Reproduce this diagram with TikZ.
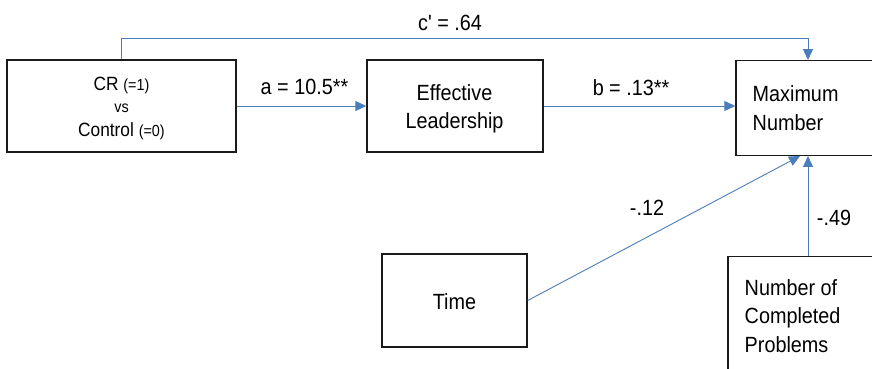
\documentclass[tikz,border=0pt]{standalone}
\usepackage{fontspec}
\setmainfont[FakeStretch=0.9]{Liberation Sans}
\newfontfamily\rawfont[FakeStretch=0.9,Ligatures=ResetAll]{Liberation Sans}
\usetikzlibrary{arrows.meta,calc}
\definecolor{lineblue}{HTML}{4A7EBB}
\definecolor{boxline}{HTML}{1A1A1A}
\newcommand{\smalltxt}{\fontsize{16bp}{19bp}\selectfont}
\newcommand{\crtxt}{\fontsize{19.2bp}{23bp}\selectfont}
\tikzset{
  box/.style={draw=boxline,line width=1.4bp,fill=white,inner sep=0pt},
  arr/.style={draw=lineblue,line width=0.9bp,-{Triangle[length=11bp,width=10bp]}},
  txt/.style={inner sep=0pt,anchor=base,font=\fontsize{22bp}{26bp}\selectfont},
  txtl/.style={txt,anchor=base west}
}
\begin{document}
\begin{tikzpicture}[x=1bp,y=-1bp]
\useasboundingbox (0,0) rectangle (872,368);
\clip (0,0) rectangle (872,368);
% boxes
\node[box,minimum width=229bp,minimum height=92bp] (cr) at (121.5,106) {};
\node[box,minimum width=176bp,minimum height=92bp] (el) at (455,106) {};
\node[box,minimum width=144bp,minimum height=94.5bp] (mx) at (808,108) {};
\node[box,minimum width=145bp,minimum height=93bp] (tm) at (454.5,300.5) {};
\node[box,minimum width=160bp,minimum height=134bp] (nc) at (808,323.5) {};
% box texts
\node[txt,font=\crtxt] (crt) at (121.5,90) {CR {\smalltxt(=1)}};
\node[txt,font=\smalltxt] (vst) at (121.5,112.5) {vs};
\node[txt,font=\crtxt] (cot) at (121.5,136.5) {Control {\smalltxt(=0)}};
\node[txt] (el1) at (454.5,100) {Effective};
\node[txt] (el2) at (454.5,128.5) {Leadership};
\node[txtl] (mx1) at (752.5,101.5) {Maximum};
\node[txtl] (mx2) at (752.5,130) {Number};
\node[txt] (tmt) at (454.5,309) {Time};
\node[txtl] (nc1) at (744.5,295) {Number of};
\node[txtl] (nc2) at (744.5,323.5) {Completed};
\node[txtl] (nc3) at (744.5,352) {Problems};
% connectors
\coordinate (mxt) at ($(mx.south)+(-8,0)$);
\draw[arr] (cr.north) -- ++(0,-20.5) -| (mx.north);
\draw[arr] (cr.east) -- (el.west);
\draw[arr] (el.east) -- (el.east -| mx.west);
\draw[arr] (tm.east) -- (mxt);
\draw[arr] (nc.north) -- (mx.south);
% labels
\node[txt] (lc) at (450,30) {{\rawfont c'} = .64};
\node[txt] (la) at (304.5,94) {a = 10.5**};
\node[txt] (lb) at (631,95.5) {b = .13**};
\node[txt] (lt) at (647,215) {-.12};
\node[txt] (ln) at (834,225) {-.49};
\end{tikzpicture}
\end{document}
